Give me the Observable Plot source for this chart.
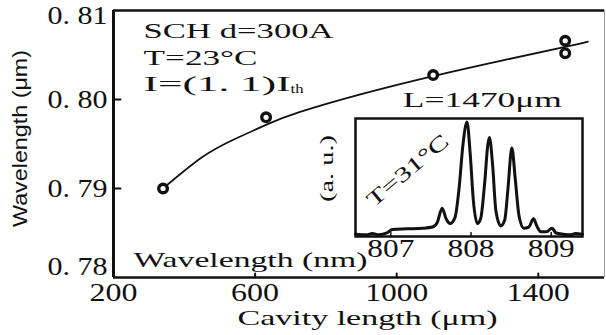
<!DOCTYPE html>
<html><head><meta charset="utf-8">
<script src="https://cdn.jsdelivr.net/npm/d3@7"></script>
<script src="https://cdn.jsdelivr.net/npm/@observablehq/plot@0.6"></script>
<style>
html,body{margin:0;padding:0;background:#fff;}
#chart{position:relative;width:606px;height:335px;overflow:hidden;background:#fff;}
#chart svg{position:absolute;overflow:visible;}
#chart text{font-weight:normal;}
</style></head><body><div id="chart"></div>
<script>
// ---- main chart data ----
const cavityLength = [340, 631, 1103, 1476, 1476];
const wavelengthUm = [0.7900, 0.7980, 0.80275, 0.8066, 0.8052];
const fitLength = [340, 450, 540, 634, 727, 900, 1100, 1300, 1476, 1540];
const fitWavelength = [0.7900, 0.7935, 0.7955, 0.7972, 0.7986, 0.8006, 0.8026, 0.8044, 0.8059, 0.8065];
const xTicks = [200, 600, 1000, 1400];
const yTicks = [0.78, 0.79, 0.80, 0.81];
const xDomain = [200, 1587];
const yDomain = [0.78, 0.81];

// ---- inset spectrum data (L = 1470 um, T = 31 C) ----
const spectrumNm = [806.56, 806.70, 806.77, 806.85, 806.95, 807.02, 807.20, 807.40, 807.52, 807.58,
  807.64, 807.69, 807.74, 807.80, 807.85, 807.90, 807.95, 807.99, 808.03, 808.08,
  808.12, 808.17, 808.21, 808.23, 808.27, 808.31, 808.37, 808.42, 808.46, 808.50,
  808.51, 808.55, 808.60, 808.66, 808.72, 808.78, 808.82, 808.87, 808.94, 809.01,
  809.06, 809.15, 809.25, 809.30, 809.39];
const spectrumAu = [0.02, 0.015, 0.025, 0.015, 0.03, 0.06, 0.065, 0.07, 0.08, 0.12,
  0.24, 0.15, 0.11, 0.16, 0.40, 0.78, 0.97, 0.70, 0.30, 0.11,
  0.15, 0.45, 0.78, 0.84, 0.60, 0.22, 0.09, 0.14, 0.40, 0.72,
  0.75, 0.50, 0.17, 0.07, 0.08, 0.15, 0.09, 0.04, 0.04, 0.07,
  0.03, 0.02, 0.015, 0.025, 0.02];
const insetTicks = [807, 808, 809];
const insetDomain = [806.56, 809.39];

const serif = "'Liberation Serif', 'Times New Roman', Times, serif";
const sans = "'Liberation Sans', Arial, Helvetica, sans-serif";
const ink = "#111";

const points = cavityLength.map((x, i) => ({x, y: wavelengthUm[i]}));
const fitCurve = fitLength.map((x, i) => ({x, y: fitWavelength[i]}));
const spectrum = spectrumNm.map((x, i) => ({x, y: spectrumAu[i]}));
const yFmt = d => d3.format(".2f")(d).replace(".", ". ");
const yAxisOpts = {tickSize: 0, tickPadding: 6, tickFormat: yFmt, fontSize: 25, fontFamily: serif};

const main = Plot.plot({
  width: 606, height: 335,
  marginLeft: 113, marginRight: 2, marginTop: 10, marginBottom: 58,
  style: {fontFamily: serif, fontSize: "25px", background: "transparent", color: ink},
  x: {domain: xDomain, label: null},
  y: {domain: yDomain, label: null},
  marks: [
    Plot.axisX(xTicks, {tickSize: 0, tickPadding: 6, tickFormat: d3.format("d"), fontSize: 25, fontFamily: serif, label: null}),
    Plot.axisY(yTicks.slice(1, -1), {...yAxisOpts, label: null}),
    Plot.axisY(yTicks.slice(0, 1), {...yAxisOpts, dy: -11, label: null}),
    Plot.axisY(yTicks.slice(-1), {...yAxisOpts, dy: 5, label: null}),
    Plot.ruleX([xDomain[1]], {stroke: "#999", strokeWidth: 1}),
    Plot.ruleY([yDomain[1]], {stroke: ink, strokeWidth: 2.5}),
    Plot.ruleY([yDomain[0]], {stroke: ink, strokeWidth: 2.5}),
    Plot.ruleX([xDomain[0]], {stroke: ink, strokeWidth: 3}),
    Plot.vector(yTicks.slice(1, -1), {x: xDomain[0], y: d => d, length: 7, rotate: 90, anchor: "start", r: 0, strokeWidth: 2, stroke: ink}),
    Plot.vector(xTicks.slice(1), {x: d => d, y: yDomain[0], length: 4, rotate: 0, anchor: "start", r: 0, strokeWidth: 2, stroke: ink}),
    Plot.line(fitCurve, {x: "x", y: "y", curve: "natural", strokeWidth: 1.8, stroke: ink}),
    Plot.dot(points, {x: "x", y: "y", r: 4.3, stroke: ink, strokeWidth: 3.4, fill: "white"}),
    Plot.text(["SCH d=300A"], {x: 285, y: 0.80775, textAnchor: "start", fontSize: 22, fontFamily: serif}),
    Plot.text(["T=23°C"], {x: 285, y: 0.80472, textAnchor: "start", fontSize: 22, fontFamily: serif}),
    Plot.text(["I=(1. 1)I"], {x: 285, y: 0.80180, textAnchor: "start", fontSize: 22, fontFamily: serif}),
    Plot.text(["th"], {x: 700, y: 0.80124, textAnchor: "start", fontSize: 13, fontFamily: serif}),
    Plot.text(["L=1470μm"], {x: 1242, y: 0.79989, fontSize: 20, fontFamily: serif}),
    Plot.text(["Wavelength (nm)"], {x: 256.5, y: 0.78191, textAnchor: "start", fontSize: 21, fontFamily: serif}),
    Plot.text(["Cavity length (μm)"], {x: 917.5, y: 0.77539, fontSize: 21, fontFamily: serif}),
    Plot.text(["Wavelength (μm)"], {x: -62.7, y: 0.79562, rotate: -90, fontSize: 21, fontFamily: sans})
  ]
});

const inset = Plot.plot({
  width: 300, height: 165,
  marginLeft: 55, marginRight: 18, marginTop: 13, marginBottom: 34,
  style: {fontFamily: serif, fontSize: "25px", background: "transparent", color: ink},
  x: {domain: insetDomain, label: null},
  y: {domain: [0, 1], axis: null},
  marks: [
    Plot.axisX(insetTicks, {tickSize: 0, tickPadding: 3, tickFormat: d3.format("d"), fontSize: 25, fontFamily: serif, label: null}),
    Plot.frame({stroke: ink, strokeWidth: 2.5}),
    Plot.vector(insetTicks, {x: d => d, y: 0, length: 4, rotate: 0, anchor: "start", r: 0, strokeWidth: 1.5, stroke: ink}),
    Plot.line(spectrum, {x: "x", y: "y", curve: "monotone-x", strokeWidth: 3, stroke: ink}),
    Plot.text(["(a. u.)"], {x: 806.21, y: 0.576, rotate: -90, fontSize: 18, fontFamily: serif}),
    Plot.text(["T=31°C"], {x: 807.21, y: 0.56, rotate: -40, fontSize: 21, fontFamily: serif})
  ]
});

const chart = document.getElementById("chart");
main.style.left = "0px"; main.style.top = "0px";
inset.style.left = "300px"; inset.style.top = "105px";
chart.appendChild(main);
chart.appendChild(inset);

const lengths = {
  "SCH d=300A": 190, "T=23°C": 114, "I=(1. 1)I": 147, "th": 13,
  "L=1470μm": 159, "Wavelength (nm)": 234, "Cavity length (μm)": 260,
  "Wavelength (μm)": 177, "(a. u.)": 67, "T=31°C": 100,
  "200": 48, "600": 48, "1000": 63, "1400": 63,
  "0. 78": 60, "0. 79": 60, "0. 80": 60, "0. 81": 60,
  "807": 47, "808": 47, "809": 47
};
d3.select(chart).selectAll("text").each(function () {
  const len = lengths[this.textContent];
  if (len) d3.select(this).attr("textLength", len).attr("lengthAdjust", "spacingAndGlyphs");
});
</script></body></html>
